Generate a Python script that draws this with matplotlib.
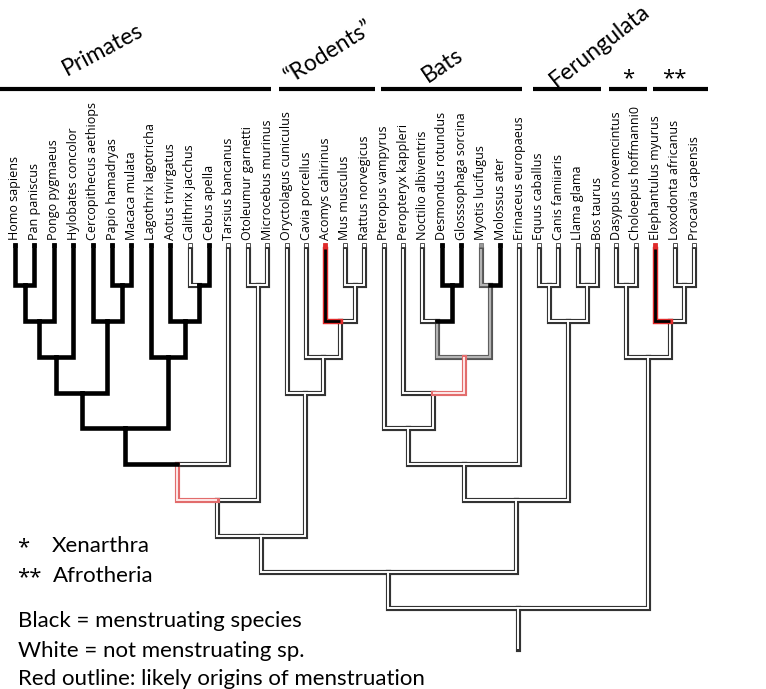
import matplotlib.pyplot as plt

# -----------------------------------------------------------------------------
# tips, left to right, with their state
species = [
    "Homo sapiens", "Pan paniscus", "Pongo pygmaeus", "Hylobates concolor",
    "Cercopithecus aethiops", "Papio hamadryas", "Macaca mulata",
    "Lagothrix lagotricha", "Aotus trivirgatus", "Calithrix jacchus",
    "Cebus apella", "Tarsius bancanus", "Otoleumur garnetti", "Microcebus murinus",
    "Oryctolagus cuniculus", "Cavia porcellus", "Acomys cahirinus", "Mus musculus",
    "Rattus norvegicus", "Pteropus vampyrus", "Peropteryx kappleri",
    "Noctilio albiventris", "Desmondus rotundus", "Glosssophaga sorcina",
    "Myotis lucifugus", "Molossus ater", "Erinaceus europaeus", "Equus caballus",
    "Canis famiiaris", "Llama glama", "Bos taurus", "Dasypus novemcintus",
    "Choloepus hoffmanni0", "Elephantulus myurus", "Loxodonta africanus",
    "Procavia capensis",
]
# m = menstruating, n = not, u = uncertain, mo / no = red outline (origin)
species_state = [
    "m", "m", "m", "m", "m", "m", "m", "m", "m", "n", "m", "n", "n", "n",
    "n", "n", "mo", "n", "n",
    "n", "n", "n", "m", "m", "u", "m", "n",
    "n", "n", "n", "n",
    "n", "n", "mo", "n", "n",
]

# internal nodes: child a, child b, level (steps above the tips), state
nodes = {
    "hom_pan": ("Homo sapiens", "Pan paniscus", 1, "m"),
    "hominini": ("hom_pan", "Pongo pygmaeus", 2, "m"),
    "hominoid": ("hominini", "Hylobates concolor", 3, "m"),
    "pap_mac": ("Papio hamadryas", "Macaca mulata", 1, "m"),
    "cercop": ("Cercopithecus aethiops", "pap_mac", 2, "m"),
    "catarr": ("hominoid", "cercop", 4, "m"),
    "cal_ceb": ("Calithrix jacchus", "Cebus apella", 1, "m"),
    "aotus": ("Aotus trivirgatus", "cal_ceb", 2, "m"),
    "platyrr": ("Lagothrix lagotricha", "aotus", 3, "m"),
    "anthrop": ("catarr", "platyrr", 5, "m"),
    "haplorh": ("anthrop", "Tarsius bancanus", 6, "no"),
    "strep": ("Otoleumur garnetti", "Microcebus murinus", 1, "n"),
    "primates": ("haplorh", "strep", 7, "n"),
    "mus_rat": ("Mus musculus", "Rattus norvegicus", 1, "n"),
    "murid": ("Acomys cahirinus", "mus_rat", 2, "n"),
    "rodent": ("Cavia porcellus", "murid", 3, "n"),
    "glires": ("Oryctolagus cuniculus", "rodent", 4, "n"),
    "euarch": ("primates", "glires", 8, "n"),
    "des_glo": ("Desmondus rotundus", "Glosssophaga sorcina", 1, "m"),
    "myo_mol": ("Myotis lucifugus", "Molossus ater", 1, "u"),
    "noct": ("Noctilio albiventris", "des_glo", 2, "u"),
    "bats_a": ("noct", "myo_mol", 3, "no"),
    "bats_b": ("Peropteryx kappleri", "bats_a", 4, "n"),
    "bats": ("Pteropus vampyrus", "bats_b", 5, "n"),
    "bats_eri": ("bats", "Erinaceus europaeus", 6, "n"),
    "equ_can": ("Equus caballus", "Canis famiiaris", 1, "n"),
    "lla_bos": ("Llama glama", "Bos taurus", 1, "n"),
    "ferung": ("equ_can", "lla_bos", 2, "n"),
    "laurasia": ("bats_eri", "ferung", 7, "n"),
    "boreo": ("euarch", "laurasia", 9, "n"),
    "xenarthra": ("Dasypus novemcintus", "Choloepus hoffmanni0", 1, "n"),
    "lox_pro": ("Loxodonta africanus", "Procavia capensis", 1, "n"),
    "afrotheria": ("Elephantulus myurus", "lox_pro", 2, "n"),
    "atlantog": ("xenarthra", "afrotheria", 3, "n"),
    "root": ("boreo", "atlantog", 10, "n"),
}
root_stem_end = 11.14

# clade bars along the top
clade_names = ["Primates", "\u201cRodents\u201d", "Bats", "Ferungulata", "*", "**"]
clade_first = ["Homo sapiens", "Oryctolagus cuniculus", "Pteropus vampyrus",
               "Equus caballus", "Dasypus novemcintus", "Elephantulus myurus"]
clade_last = ["Microcebus murinus", "Rattus norvegicus", "Erinaceus europaeus",
              "Bos taurus", "Choloepus hoffmanni0", "Procavia capensis"]

# -----------------------------------------------------------------------------
# styles: (outline colour, fill colour, outline width, fill width, zorder)
styles = {
    "m": ("black", "black", 3.3, 3.3, 5),
    "n": ("#333333", "white", 3.7, 1.4, 2),
    "u": ("#555555", "#b4b4b4", 3.7, 1.6, 3),
    "mo": ("#e02a2a", "black", 3.9, 2.0, 4),
    "no": ("#e26c6c", "#fde8e8", 3.7, 1.4, 4),
}
bar_pads = [(0.78, 0.2), (0.4, 0.56), (0.13, 0.13), (0.3, 0.2), (0.4, 0.6), (0.1, 0.7)]
bar_level = -4.46
label_pos = [(4.5, -5.55, 28), (16.2, -5.5, 32), (22.05, -5.13, 34),
             (30.15, -5.68, 38), (31.6, -4.75, 0), (34.0, -4.75, 0)]

label_font = "Lato"
leaf_font = "Open Sans"
star_font = "Open Sans"

# -----------------------------------------------------------------------------
fig = plt.figure(figsize=(7.66, 6.89), dpi=100)
ax = fig.add_axes([0, 0, 1, 1])
ax.set_xlim(-0.773, 38.71)
ax.set_ylim(12.26, -6.94)
ax.axis("off")

pos_x = {name: float(i) for i, name in enumerate(species)}
pos_y = {name: 0.0 for name in species}
state = dict(zip(species, species_state))
parent = {}
for key, (a, b, level, st) in nodes.items():
    pos_x[key] = (pos_x[a] + pos_x[b]) / 2
    pos_y[key] = level
    state[key] = st
    parent[a] = key
    parent[b] = key


def draw_edge(xs, ys, st):
    edge, fill, w_out, w_in, z = styles[st]
    ax.plot(xs, ys, color=edge, lw=w_out, solid_joinstyle="miter",
            solid_capstyle="projecting", zorder=z)
    if fill != edge:
        ax.plot(xs, ys, color=fill, lw=w_in, solid_joinstyle="miter",
                solid_capstyle="butt", zorder=z + 0.5)


for name in list(species) + list(nodes):
    st = state[name]
    if name in parent:
        p = parent[name]
        xs = [pos_x[name], pos_x[name], pos_x[p]]
        ys = [pos_y[name], pos_y[p], pos_y[p]]
    else:
        xs = [pos_x[name], pos_x[name]]
        ys = [pos_y[name], root_stem_end]
    draw_edge(xs, ys, st)

# tip markers and names
marker_face = {"m": "black", "n": "white", "u": "#999999", "mo": "#e02a2a", "no": "white"}
marker_edge = {"m": "black", "n": "#333333", "u": "#777777", "mo": "#e02a2a", "no": "#e02a2a"}
for i, name in enumerate(species):
    st = species_state[i]
    ax.plot(i, -0.12, marker="s", ms=2.6, mfc=marker_face[st], mec=marker_edge[st],
            mew=0.6, zorder=6)
    ax.text(i, -0.26, name, rotation=90, ha="center", va="bottom",
            fontsize=9, family=leaf_font, color="black")

# clade bars and names
for k, cname in enumerate(clade_names):
    x0 = species.index(clade_first[k]) - bar_pads[k][0]
    x1 = species.index(clade_last[k]) + bar_pads[k][1]
    ax.plot([x0, x1], [bar_level, bar_level], color="black", lw=3.0,
            solid_capstyle="butt")
    lx, ly, rot = label_pos[k]
    if rot:
        ax.text(lx, ly, cname, rotation=rot, rotation_mode="anchor",
                ha="center", va="center", fontsize=16.5, family=label_font)
    else:
        ax.text(lx, ly, cname, ha="center", va="center", fontsize=16,
                family=star_font)

# key
key_size = 16
fig.text(17 / 766, 1 - 553 / 689, "*", fontsize=key_size, family=star_font, va="baseline")
fig.text(52 / 766, 1 - 552 / 689, "Xenarthra", fontsize=key_size, family=label_font,
         va="baseline")
fig.text(17 / 766, 1 - 583 / 689, "**", fontsize=key_size, family=star_font, va="baseline")
fig.text(53 / 766, 1 - 582 / 689, "Afrotheria", fontsize=key_size, family=label_font,
         va="baseline")
key_lines = ["Black = menstruating species", "White = not menstruating sp.",
             "Red outline: likely origins of menstruation"]
for line, base in zip(key_lines, [627, 657, 685]):
    fig.text(18 / 766, 1 - base / 689, line, fontsize=key_size, family=label_font,
             va="baseline")

fig.savefig("out.png", dpi=100)
